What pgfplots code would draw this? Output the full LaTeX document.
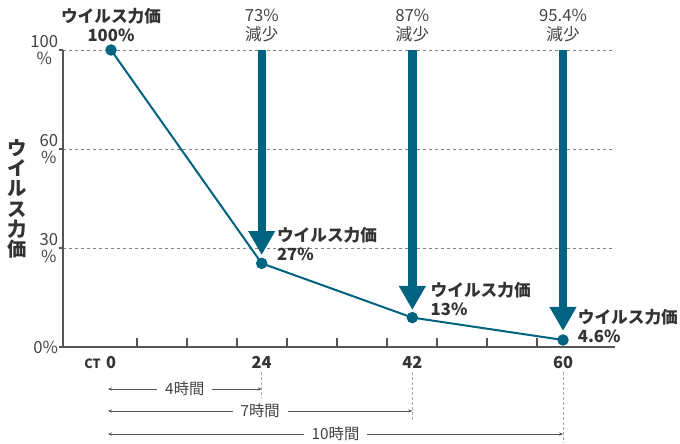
\documentclass[border=0pt]{standalone}
\usepackage{fontspec}
\setmainfont{Noto Sans CJK JP}
\usepackage{pgfplots}
\pgfplotsset{compat=1.18}
\usetikzlibrary{arrows.meta}

\definecolor{virus}{HTML}{00637F}
\definecolor{txt}{HTML}{333333}
\definecolor{softtxt}{HTML}{444444}
\definecolor{axisgray}{HTML}{555555}
\definecolor{gridgray}{HTML}{808080}
\definecolor{rangegray}{HTML}{555555}
\definecolor{dashgray}{HTML}{AAAAAA}

\newcommand{\lbl}{\fontsize{12.5pt}{14.5pt}\selectfont}
\newcommand{\spanfont}{\fontsize{11.5pt}{13pt}\selectfont}

\begin{document}
\begin{tikzpicture}
% picture frame: 680x443 px at 0.75pt per px, axis box at (63,347) px
\useasboundingbox (-47.25pt,-72pt) rectangle (462.75pt,260.25pt);
\begin{axis}[
    scale only axis,
    width=414pt, height=222.75pt,
    xmin=-0.3186, xmax=3.345,
    ymin=0, ymax=3,
    clip=false,
    axis x line*=bottom,
    axis y line*=left,
    axis line style={axisgray, line width=0.9pt},
    tick align=inside,
    xtick={0,1,2,3},
    xticklabels={{\llap{\fontsize{9.5pt}{10pt}\selectfont CT\hspace{4pt}}0},24,42,60},
    minor xtick={0.1726,0.5044,0.8363,1.168,1.5,1.832,2.164,2.496,2.827},
    minor tick length=6.75pt,
    major tick length=3pt,
    every major x tick/.append style={draw=none},
    every minor x tick/.append style={axisgray, line width=0.9pt},
    every major y tick/.append style={xshift=-3pt, axisgray, line width=0.9pt},
    ytick={0,1,2,3},
    yticklabels={0\%,{30\\\%},{60\\\%},{100\\\%}},
    xticklabel style={font=\bfseries\fontsize{12.3pt}{12.3pt}\selectfont, text=txt, inner sep=0pt, yshift=-6.5pt},
    yticklabel style={font=\fontsize{12.5pt}{12.4pt}\selectfont, text=softtxt, align=center, inner sep=0pt, xshift=-3.5pt},
    ymajorgrids,
    major grid style={gridgray, line width=0.6pt, dash pattern=on 2.25pt off 2.25pt},
    /pgf/number format/assume math mode=true,
]
% virus titre, positions on the chart's own (uneven) scale
\addplot[virus, line width=1.5pt, mark=*, mark size=3.5pt] coordinates {
    (0,3) (1,0.845) (2,0.297) (3,0.071) };

% reduction arrows
\draw[virus, line width=6.25pt, -{Triangle[width=19pt,length=18pt]}] (axis cs:1,3) -- (axis cs:1,0.929);
\draw[virus, line width=6.25pt, -{Triangle[width=19pt,length=18pt]}] (axis cs:2,3) -- (axis cs:2,0.374);
\draw[virus, line width=6.25pt, -{Triangle[width=19pt,length=18pt]}] (axis cs:3,3) -- (axis cs:3,0.162);

% labels above
\node[anchor=south, align=center, inner sep=0pt, yshift=6pt, text=txt, font=\bfseries\lbl] at (axis cs:0,3) {ウイルス力価\\100\%};
\node[anchor=south, align=center, inner sep=0pt, yshift=6pt, text=softtxt, font=\lbl] at (axis cs:1,3) {73\%\\減少};
\node[anchor=south, align=center, inner sep=0pt, yshift=6pt, text=softtxt, font=\lbl] at (axis cs:2,3) {87\%\\減少};
\node[anchor=south, align=center, inner sep=0pt, yshift=6pt, text=softtxt, font=\lbl] at (axis cs:3,3) {95.4\%\\減少};

% labels beside points
\node[anchor=west, align=left, inner sep=0pt, text=txt, font=\bfseries\lbl] at (axis cs:1.10,1.04) {ウイルス力価\\27\%};
\node[anchor=west, align=left, inner sep=0pt, text=txt, font=\bfseries\lbl] at (axis cs:2.12,0.485) {ウイルス力価\\13\%};
\node[anchor=west, align=left, inner sep=0pt, text=txt, font=\bfseries\lbl] at (axis cs:3.097,0.212) {ウイルス力価\\4.6\%};

% y title, upright stacked
\node[align=center, inner sep=0pt, text=txt, font=\bfseries\fontsize{14.5pt}{15.2pt}\selectfont] at (axis cs:-0.624,1.495) {ウ\\イ\\ル\\ス\\力\\価};

% time spans
\draw[dashgray, line width=0.6pt, dash pattern=on 2.25pt off 1.5pt] (axis cs:1,-0.2525) -- (axis cs:1,-0.515);
\draw[dashgray, line width=0.6pt, dash pattern=on 2.25pt off 1.5pt] (axis cs:2,-0.2525) -- (axis cs:2,-0.737);
\draw[dashgray, line width=0.6pt, dash pattern=on 2.25pt off 1.5pt] (axis cs:3,-0.2525) -- (axis cs:3,-0.97);
\draw[rangegray, line width=0.6pt, {Stealth[length=3pt,width=2.5pt]}-{Stealth[length=3pt,width=2.5pt]}]
    (axis cs:-0.02,-0.424) -- (axis cs:1,-0.424)
    node[midway, fill=white, inner xsep=6pt, inner ysep=1pt, text=softtxt, font=\spanfont] {4時間};
\draw[rangegray, line width=0.6pt, {Stealth[length=3pt,width=2.5pt]}-{Stealth[length=3pt,width=2.5pt]}]
    (axis cs:-0.02,-0.646) -- (axis cs:2,-0.646)
    node[midway, fill=white, inner xsep=6pt, inner ysep=1pt, text=softtxt, font=\spanfont] {7時間};
\draw[rangegray, line width=0.6pt, {Stealth[length=3pt,width=2.5pt]}-{Stealth[length=3pt,width=2.5pt]}]
    (axis cs:-0.02,-0.879) -- (axis cs:3,-0.879)
    node[midway, fill=white, inner xsep=6pt, inner ysep=1pt, text=softtxt, font=\spanfont] {10時間};
\end{axis}
\end{tikzpicture}
\end{document}
